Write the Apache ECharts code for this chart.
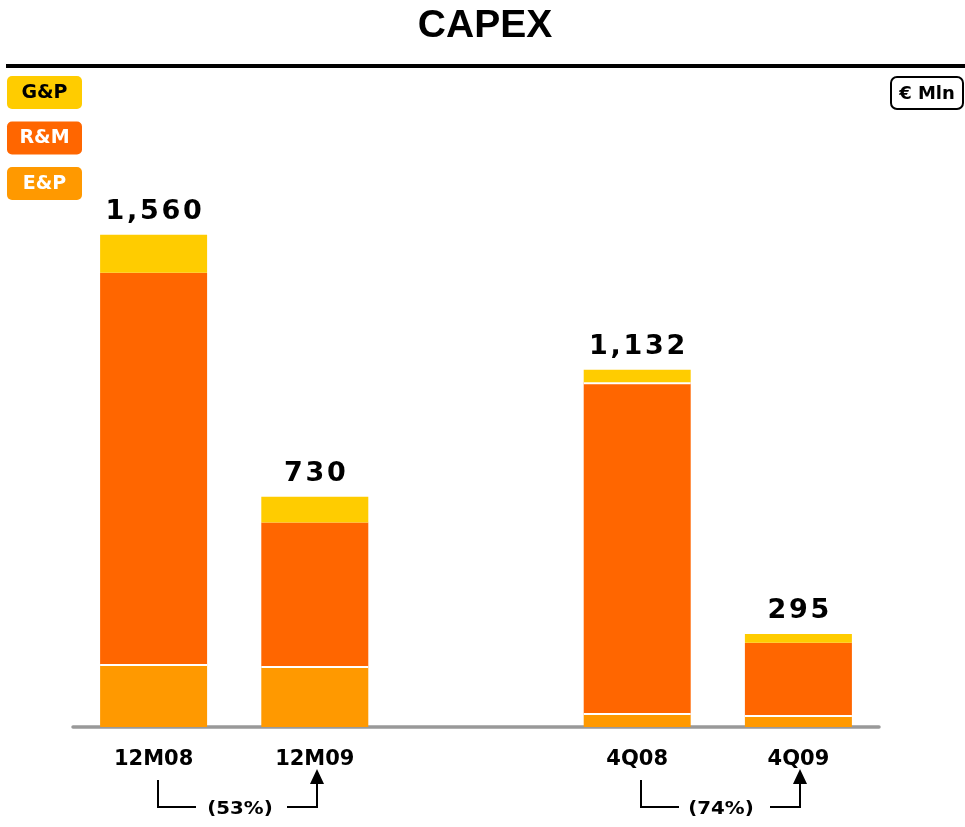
<!DOCTYPE html>
<html>
<head>
<meta charset="utf-8">
<script src="https://cdn.jsdelivr.net/npm/echarts@6/dist/echarts.min.js"></script>
<style>html,body{margin:0;padding:0;background:#fff}#c{width:965px;height:827px}</style>
</head>
<body>
<div id="c"></div>
<script>
const categories = ['12M08', '12M09', '', '4Q08', '4Q09'];
const epValues = [193, 187, '-', 38, 32];
const rmValues = [1247, 461, '-', 1055, 235];
const gpValues = [120, 82, '-', 39, 28];
const changeLabels = ['(53%)', '(74%)'];
const seriesNames = ['G&P', 'R&M', 'E&P'];
const title = 'CAPEX';
const unitLabel = '€ Mln';

const COLORS = { 'G&P': '#FFCC00', 'R&M': '#FF6600', 'E&P': '#FF9900' };
const FONT = 'DejaVu Sans';
const spaced = s => String(s).split('').join('\u200A');

function total(i) {
  if (epValues[i] === '-') return null;
  return epValues[i] + rmValues[i] + gpValues[i];
}

const chart = echarts.init(document.getElementById('c'), null, { renderer: 'canvas' });

const legendGraphics = [];
seriesNames.forEach((n, i) => {
  legendGraphics.push({
    type: 'rect', left: 7, top: 76 + i * 45.5,
    shape: { width: 75, height: 33, r: 5 },
    style: { fill: COLORS[n] }
  });
  legendGraphics.push({
    type: 'text', x: 44.5, y: 93 + i * 45.5,
    style: { text: n, fill: n === 'G&P' ? '#000' : '#fff', font: 'bold 19px "DejaVu Sans"', align: 'center', verticalAlign: 'middle' }
  });
});

function bracket(x1, x2, label, mid) {
  const yTop = 780, yBot = 807, tip = 769;
  return [
    { type: 'polyline', shape: { points: [[x1, yTop], [x1, yBot], [x1 + 38, yBot]] }, style: { stroke: '#000', lineWidth: 2, fill: null } },
    { type: 'polyline', shape: { points: [[x2 - 30, yBot], [x2, yBot], [x2, tip + 14]] }, style: { stroke: '#000', lineWidth: 2, fill: null } },
    { type: 'polygon', shape: { points: [[x2 - 7, tip + 15], [x2 + 7, tip + 15], [x2, tip]] }, style: { fill: '#000' } },
    { type: 'text', x: mid, y: 809, scaleX: 1.1, style: { text: label, font: 'bold 18px "DejaVu Sans"', fill: '#000', align: 'center', verticalAlign: 'middle' } }
  ];
}

const option = {
  animation: false,
  backgroundColor: '#fff',
  grid: { left: 73, right: 86, top: 96, bottom: 100, containLabel: false },
  xAxis: {
    type: 'category',
    data: categories,
    axisLine: { show: true, lineStyle: { color: '#999999', width: 3.5 } },
    axisTick: { show: false },
    axisLabel: {
      color: '#000', fontFamily: FONT, fontWeight: 'bold', fontSize: 21, margin: 22, interval: 0
    }
  },
  yAxis: {
    type: 'value', min: 0, max: 2000,
    show: false, splitLine: { show: false }
  },
  series: [
    {
      name: 'E&P', type: 'bar', stack: 'a', barWidth: 107, data: epValues, z: 3,
      itemStyle: { color: COLORS['E&P'], shadowColor: '#ffffff', shadowOffsetY: -2, shadowBlur: 0 }
    },
    {
      name: 'R&M', type: 'bar', stack: 'a', barWidth: 107, data: rmValues,
      itemStyle: { color: COLORS['R&M'] }
    },
    {
      name: 'G&P', type: 'bar', stack: 'a', barWidth: 107,
      data: gpValues.map((v, i) => i === 3 ? { value: v, itemStyle: { shadowColor: '#ffffff', shadowOffsetY: 2, shadowBlur: 0 } } : v),
      z: 3,
      itemStyle: { color: COLORS['G&P'] },
      label: {
        show: true, position: 'top', distance: 9,
        color: '#000', fontFamily: FONT, fontWeight: 'bold', fontSize: 27,
        formatter: p => { const t = total(p.dataIndex); return t == null ? '' : spaced(t.toLocaleString('en-US')); }
      }
    }
  ],
  graphic: [
    { type: 'text', x: 485, y: 26, style: { text: title, font: 'bold 39px "Liberation Sans"', fill: '#000', align: 'center', verticalAlign: 'middle' } },
    { type: 'rect', shape: { x: 6, y: 64, width: 959, height: 4 }, style: { fill: '#000' } },
    { type: 'rect', shape: { x: 891, y: 77, width: 72, height: 32, r: 6 }, style: { fill: '#fff', stroke: '#000', lineWidth: 2 } },
    { type: 'text', x: 927, y: 94, style: { text: unitLabel, font: 'bold 18px "DejaVu Sans"', fill: '#000', align: 'center', verticalAlign: 'middle' } },
    ...legendGraphics,
    ...bracket(158, 317, changeLabels[0], 240),
    ...bracket(641, 800, changeLabels[1], 721)
  ]
};
chart.setOption(option);
</script>
</body>
</html>
